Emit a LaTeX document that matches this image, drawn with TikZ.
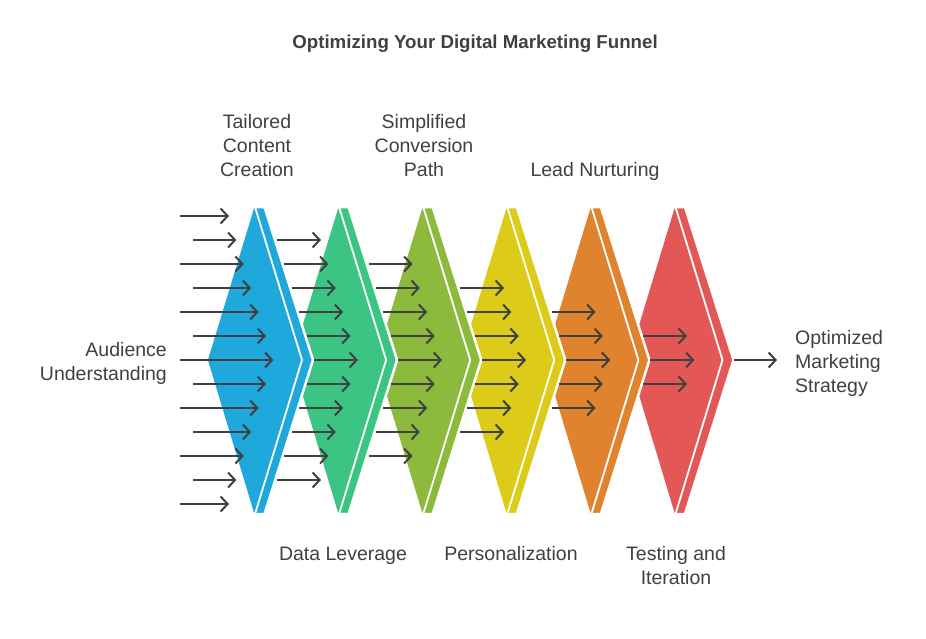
\documentclass[tikz,border=0pt]{standalone}
\usepackage{fontspec}
\setmainfont{Liberation Sans}
\usepackage{xcolor}
\usetikzlibrary{arrows.meta}

\definecolor{stageblue}{HTML}{1FA8DB}
\definecolor{stagegreen}{HTML}{3CC483}
\definecolor{stagelime}{HTML}{8CBA3C}
\definecolor{stageyellow}{HTML}{DDCB19}
\definecolor{stageorange}{HTML}{E0832F}
\definecolor{stagered}{HTML}{E45757}
\definecolor{inktext}{HTML}{404040}

\tikzset{
  flowarrow/.style={draw=inktext, line width=2pt, -{Straight Barb[length=7pt,width=15pt]}},
  stagelabel/.style={text=inktext, font=\fontsize{19.5}{24}\selectfont, inner sep=0pt, align=center},
}

\begin{document}
\begin{tikzpicture}[x=1pt,y=-1pt]
  % Fix the canvas to the reference size
  \useasboundingbox (0,0) rectangle (926,638);

  % Draw the stages from back to front
  \foreach \k/\col in {5/stagered,4/stageorange,3/stageyellow,2/stagelime,1/stagegreen,0/stageblue} {
    \pgfmathsetmacro{\t}{253+84.1*\k}
    \fill[\col, draw=white, line width=2.5pt, line join=round] (\t-46.5,360) -- (\t,207) -- (\t+11.5,207) -- (\t+60,360) -- (\t+11.5,514) -- (\t,514) -- cycle;
    \draw[white, line width=1.8pt] (\t+2,207) -- (\t+49,360) -- (\t+2,514);
  }

  % Incoming arrows on the left
  \foreach \j in {-6,...,6} {
    \pgfmathsetmacro{\s}{ifthenelse(mod(abs(\j),2)==1,193,180)}
    \pgfmathsetmacro{\e}{229+7.4*(6-abs(\j))}
    \draw[flowarrow] (\s,360+24*\j) -- (\e,360+24*\j);
  }

  % Arrows between the stages
  \foreach \k in {1,...,5} {
    \pgfmathtruncatemacro{\n}{6-\k}
    \foreach \j in {-\n,...,\n} {
      \pgfmathsetmacro{\s}{277+91.5*(\k-1)+7.4*(\n-abs(\j))}
      \draw[flowarrow] (\s,360+24*\j) -- (\s+44,360+24*\j);
    }
  }

  % Outgoing arrow
  \draw[flowarrow] (734,360) -- (777,360);

  % Title and labels (base anchor sits on the last line)
  \node[text=inktext, font=\bfseries\fontsize{18.7}{22}\selectfont, inner sep=0pt, anchor=base] (title) at (475,48) {Optimizing Your Digital Marketing Funnel};
  \node[stagelabel, anchor=base east, align=right] (audience) at (167,380) {Audience\\Understanding};
  \node[stagelabel, anchor=base] (tailored) at (257,176) {Tailored\\Content\\Creation};
  \node[stagelabel, anchor=base] (leverage) at (343,560) {Data Leverage};
  \node[stagelabel, anchor=base] (simplified) at (424,176) {Simplified\\Conversion\\Path};
  \node[stagelabel, anchor=base] (personal) at (511,560) {Personalization};
  \node[stagelabel, anchor=base] (nurturing) at (595,176) {Lead Nurturing};
  \node[stagelabel, anchor=base] (testing) at (676,584) {Testing and\\Iteration};
  \node[stagelabel, anchor=base west, align=left] (optimized) at (795,392) {Optimized\\Marketing\\Strategy};
\end{tikzpicture}
\end{document}
